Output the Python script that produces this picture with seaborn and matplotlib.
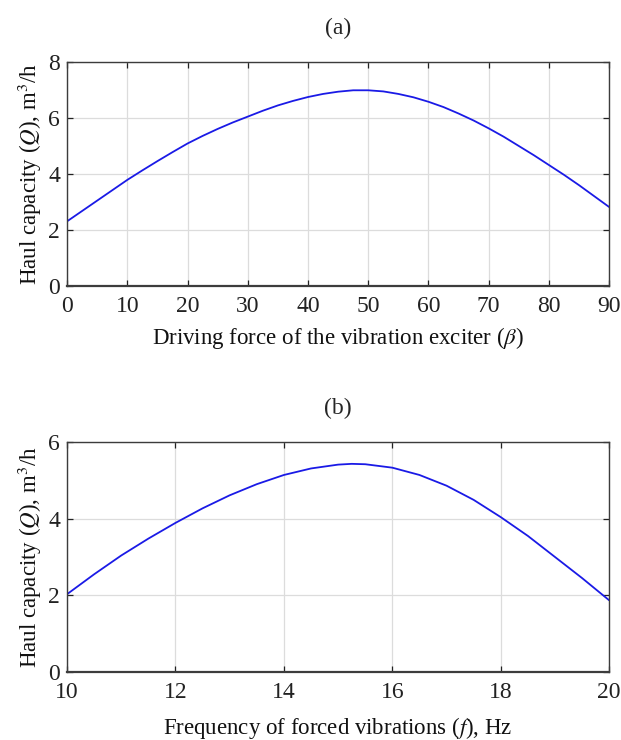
import matplotlib
matplotlib.use('Agg')
import matplotlib.pyplot as plt
import seaborn as sns
import pandas as pd

# panel (a): haul capacity vs driving force angle
beta = [0, 2.5, 5, 7.5, 10, 12.5, 15, 17.5, 20, 22.5, 25, 27.5, 30, 32.5, 35, 37.5,
        40, 42.5, 45, 47.5, 50, 52.5, 55, 57.5, 60, 62.5, 65, 67.5, 70, 72.5, 75,
        77.5, 80, 82.5, 85, 87.5, 90]
q_beta = [2.31, 2.68, 3.05, 3.42, 3.79, 4.13, 4.46, 4.78, 5.09, 5.36, 5.61, 5.84,
          6.05, 6.26, 6.45, 6.61, 6.75, 6.86, 6.94, 6.99, 6.99, 6.95, 6.86, 6.74,
          6.58, 6.39, 6.16, 5.91, 5.63, 5.33, 5.0, 4.67, 4.32, 3.97, 3.6, 3.21, 2.82]

# panel (b): haul capacity vs frequency
freq = [10, 10.5, 11, 11.5, 12, 12.5, 13, 13.5, 14, 14.5, 15, 15.25, 15.5, 16,
        16.5, 17, 17.5, 18, 18.5, 19, 19.5, 20]
q_freq = [2.03, 2.55, 3.04, 3.48, 3.89, 4.27, 4.61, 4.9, 5.14, 5.31, 5.41, 5.43, 5.42,
          5.33, 5.14, 4.86, 4.49, 4.04, 3.55, 3.0, 2.45, 1.87]

sns.set_theme(style="whitegrid")
plt.rcParams.update({
    'font.family': ['Liberation Serif', 'DejaVu Serif'],
    'mathtext.fontset': 'stix',
    'font.size': 16,
    'axes.labelsize': 16.5,
    'xtick.labelsize': 17,
    'ytick.labelsize': 17,
})

fig = plt.figure(figsize=(6.21, 7.4), dpi=100)
ax_a = fig.add_axes([0.108, 0.6135, 0.873, 0.3027])
ax_b = fig.add_axes([0.108, 0.0919, 0.873, 0.3108])

df_a = pd.DataFrame({'x': beta, 'y': q_beta})
df_b = pd.DataFrame({'x': freq, 'y': q_freq})

sns.lineplot(data=df_a, x='x', y='y', ax=ax_a, color='#1a1ae6', linewidth=1.3)
sns.lineplot(data=df_b, x='x', y='y', ax=ax_b, color='#1a1ae6', linewidth=1.3)

ylab = r"Haul capacity ($Q$), m$^{3}$/h"

ax_a.set_xlim(0, 90)
ax_a.set_ylim(0, 8)
ax_a.set_xticks(range(0, 91, 10))
ax_a.set_yticks(range(0, 9, 2))
ax_a.set_xlabel(r"Driving force of the vibration exciter ($\beta$)", labelpad=6)
ax_a.set_ylabel(ylab, labelpad=3)
ax_a.set_title("(a)", pad=20, fontsize=17)

ax_b.set_xlim(10, 20)
ax_b.set_ylim(0, 6)
ax_b.set_xticks(range(10, 21, 2))
ax_b.set_yticks(range(0, 7, 2))
ax_b.set_xlabel(r"Frequency of forced vibrations ($f$), Hz", labelpad=9)
ax_b.set_ylabel(ylab, labelpad=3)
ax_b.set_title("(b)", pad=20, fontsize=17)

for ax in (ax_a, ax_b):
    ax.set_facecolor('white')
    ax.grid(True, color='#dcdcdc', linewidth=0.9)
    for sp in ax.spines.values():
        sp.set_color('#3c3c3c')
        sp.set_linewidth(1.0)
    ax.spines['bottom'].set_linewidth(1.6)
    ax.tick_params(direction='in', length=4, width=0.9, colors='#222222',
                   top=True, right=True, left=True, bottom=True, pad=5)
    ax.tick_params(axis='x', pad=7)
    ax.xaxis.label.set_color('#111111')
    ax.yaxis.label.set_color('#111111')

fig.savefig('out.png', dpi=100, facecolor='white')
